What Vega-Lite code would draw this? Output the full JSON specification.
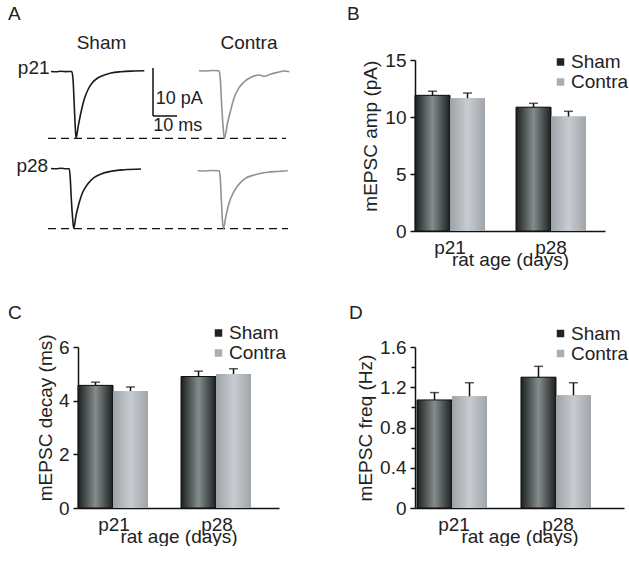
{
  "$schema": "https://vega.github.io/schema/vega-lite/v6.json",
  "background": "white",
  "padding": {"left": 7, "top": 4, "right": 0, "bottom": 0},
  "config": {
    "font": "Liberation Sans",
    "view": {"stroke": null},
    "axis": {
      "grid": false,
      "domainColor": "#111111",
      "domainWidth": 1.5,
      "tickColor": "#111111",
      "tickWidth": 1.5,
      "labelFont": "Liberation Sans",
      "labelFontSize": 19,
      "labelColor": "#222222",
      "titleFont": "Liberation Sans",
      "titleFontSize": 19,
      "titleFontWeight": "normal",
      "titleColor": "#222222"
    },
    "legend": {
      "labelFont": "Liberation Sans",
      "labelFontSize": 19,
      "labelColor": "#222222",
      "symbolType": "square",
      "symbolSize": 56,
      "symbolStrokeWidth": 0,
      "rowPadding": -2,
      "labelOffset": 1,
      "padding": 0
    },
    "title": {
      "font": "Liberation Sans",
      "fontSize": 19,
      "fontWeight": "normal",
      "color": "#222222",
      "anchor": "start",
      "frame": "group"
    }
  },
  "datasets": {
    "amp": [
      {"age": "p21", "group": "Sham", "mean": 11.9, "hi": 12.26},
      {"age": "p21", "group": "Contra", "mean": 11.65, "hi": 12.1},
      {"age": "p28", "group": "Sham", "mean": 10.86, "hi": 11.2},
      {"age": "p28", "group": "Contra", "mean": 10.04, "hi": 10.5}
    ],
    "decay": [
      {"age": "p21", "group": "Sham", "mean": 4.57, "hi": 4.69},
      {"age": "p21", "group": "Contra", "mean": 4.36, "hi": 4.51},
      {"age": "p28", "group": "Sham", "mean": 4.9, "hi": 5.1},
      {"age": "p28", "group": "Contra", "mean": 4.99, "hi": 5.19}
    ],
    "freq": [
      {"age": "p21", "group": "Sham", "mean": 1.074, "hi": 1.147},
      {"age": "p21", "group": "Contra", "mean": 1.11, "hi": 1.245},
      {"age": "p28", "group": "Sham", "mean": 1.3, "hi": 1.408},
      {"age": "p28", "group": "Contra", "mean": 1.12, "hi": 1.245}
    ],
    "traces": [
      {"trace": "Sham p21", "cond": "Sham", "t": 0, "v": 33.23},
      {"trace": "Sham p21", "cond": "Sham", "t": 2.08, "v": 33.17},
      {"trace": "Sham p21", "cond": "Sham", "t": 4.17, "v": 33.27},
      {"trace": "Sham p21", "cond": "Sham", "t": 6.25, "v": 33.21},
      {"trace": "Sham p21", "cond": "Sham", "t": 8.63, "v": 33.23},
      {"trace": "Sham p21", "cond": "Sham", "t": 9.17, "v": 31.67},
      {"trace": "Sham p21", "cond": "Sham", "t": 9.58, "v": 27.5},
      {"trace": "Sham p21", "cond": "Sham", "t": 10.0, "v": 22.71},
      {"trace": "Sham p21", "cond": "Sham", "t": 10.42, "v": 19.31},
      {"trace": "Sham p21", "cond": "Sham", "t": 11.38, "v": 21.94},
      {"trace": "Sham p21", "cond": "Sham", "t": 12.5, "v": 24.73},
      {"trace": "Sham p21", "cond": "Sham", "t": 13.88, "v": 27.5},
      {"trace": "Sham p21", "cond": "Sham", "t": 15.54, "v": 29.58},
      {"trace": "Sham p21", "cond": "Sham", "t": 17.38, "v": 30.98},
      {"trace": "Sham p21", "cond": "Sham", "t": 19.46, "v": 31.88},
      {"trace": "Sham p21", "cond": "Sham", "t": 22.21, "v": 32.5},
      {"trace": "Sham p21", "cond": "Sham", "t": 25.0, "v": 32.92},
      {"trace": "Sham p21", "cond": "Sham", "t": 29.17, "v": 33.19},
      {"trace": "Sham p21", "cond": "Sham", "t": 34.71, "v": 33.33},
      {"trace": "Sham p21", "cond": "Sham", "t": 38.88, "v": 33.4},
      {"trace": "Contra p21", "cond": "Contra", "t": 61.67, "v": 33.4},
      {"trace": "Contra p21", "cond": "Contra", "t": 64.58, "v": 33.33},
      {"trace": "Contra p21", "cond": "Contra", "t": 67.5, "v": 33.44},
      {"trace": "Contra p21", "cond": "Contra", "t": 70.0, "v": 33.38},
      {"trace": "Contra p21", "cond": "Contra", "t": 70.54, "v": 31.67},
      {"trace": "Contra p21", "cond": "Contra", "t": 71.13, "v": 26.1},
      {"trace": "Contra p21", "cond": "Contra", "t": 71.79, "v": 21.25},
      {"trace": "Contra p21", "cond": "Contra", "t": 72.21, "v": 19.31},
      {"trace": "Contra p21", "cond": "Contra", "t": 73.63, "v": 22.65},
      {"trace": "Contra p21", "cond": "Contra", "t": 75.0, "v": 25.42},
      {"trace": "Contra p21", "cond": "Contra", "t": 76.38, "v": 27.85},
      {"trace": "Contra p21", "cond": "Contra", "t": 78.46, "v": 29.94},
      {"trace": "Contra p21", "cond": "Contra", "t": 80.54, "v": 31.1},
      {"trace": "Contra p21", "cond": "Contra", "t": 83.33, "v": 32.02},
      {"trace": "Contra p21", "cond": "Contra", "t": 86.79, "v": 32.5},
      {"trace": "Contra p21", "cond": "Contra", "t": 88.88, "v": 32.23},
      {"trace": "Contra p21", "cond": "Contra", "t": 91.67, "v": 32.71},
      {"trace": "Contra p21", "cond": "Contra", "t": 94.17, "v": 33.02},
      {"trace": "Contra p21", "cond": "Contra", "t": 97.21, "v": 33.33},
      {"trace": "Contra p21", "cond": "Contra", "t": 99.29, "v": 33.19},
      {"trace": "Sham p28", "cond": "Sham", "t": 0, "v": 13.02},
      {"trace": "Sham p28", "cond": "Sham", "t": 2.08, "v": 12.96},
      {"trace": "Sham p28", "cond": "Sham", "t": 4.17, "v": 13.06},
      {"trace": "Sham p28", "cond": "Sham", "t": 6.25, "v": 12.98},
      {"trace": "Sham p28", "cond": "Sham", "t": 7.63, "v": 12.98},
      {"trace": "Sham p28", "cond": "Sham", "t": 8.04, "v": 10.83},
      {"trace": "Sham p28", "cond": "Sham", "t": 8.46, "v": 6.67},
      {"trace": "Sham p28", "cond": "Sham", "t": 9.04, "v": 2.5},
      {"trace": "Sham p28", "cond": "Sham", "t": 9.46, "v": 0.56},
      {"trace": "Sham p28", "cond": "Sham", "t": 10.42, "v": 3.19},
      {"trace": "Sham p28", "cond": "Sham", "t": 11.79, "v": 5.98},
      {"trace": "Sham p28", "cond": "Sham", "t": 13.21, "v": 8.06},
      {"trace": "Sham p28", "cond": "Sham", "t": 15.29, "v": 9.79},
      {"trace": "Sham p28", "cond": "Sham", "t": 18.04, "v": 11.19},
      {"trace": "Sham p28", "cond": "Sham", "t": 20.83, "v": 11.88},
      {"trace": "Sham p28", "cond": "Sham", "t": 25.0, "v": 12.44},
      {"trace": "Sham p28", "cond": "Sham", "t": 30.54, "v": 12.77},
      {"trace": "Sham p28", "cond": "Sham", "t": 37.5, "v": 12.92},
      {"trace": "Contra p28", "cond": "Contra", "t": 61.13, "v": 12.56},
      {"trace": "Contra p28", "cond": "Contra", "t": 63.75, "v": 12.5},
      {"trace": "Contra p28", "cond": "Contra", "t": 66.67, "v": 12.6},
      {"trace": "Contra p28", "cond": "Contra", "t": 70.13, "v": 12.56},
      {"trace": "Contra p28", "cond": "Contra", "t": 70.54, "v": 10.83},
      {"trace": "Contra p28", "cond": "Contra", "t": 70.96, "v": 6.67},
      {"trace": "Contra p28", "cond": "Contra", "t": 71.38, "v": 2.5},
      {"trace": "Contra p28", "cond": "Contra", "t": 71.79, "v": 0.56},
      {"trace": "Contra p28", "cond": "Contra", "t": 72.92, "v": 3.19},
      {"trace": "Contra p28", "cond": "Contra", "t": 74.29, "v": 5.98},
      {"trace": "Contra p28", "cond": "Contra", "t": 75.71, "v": 7.71},
      {"trace": "Contra p28", "cond": "Contra", "t": 77.79, "v": 9.44},
      {"trace": "Contra p28", "cond": "Contra", "t": 80.54, "v": 10.83},
      {"trace": "Contra p28", "cond": "Contra", "t": 84.71, "v": 11.67},
      {"trace": "Contra p28", "cond": "Contra", "t": 90.29, "v": 12.23},
      {"trace": "Contra p28", "cond": "Contra", "t": 94.17, "v": 12.4},
      {"trace": "Contra p28", "cond": "Contra", "t": 98.63, "v": 12.56}
    ]
  },
  "columns": 2,
  "spacing": {"column": 136, "row": 116},
  "bounds": "flush",
  "resolve": {"scale": {"color": "independent"}, "legend": {"color": "independent"}},
  "concat": [
    {
      "width": 201,
      "height": 171,
      "layer": [
        {
          "data": {"values": [
            {"row": "p21", "t1": -1.25, "t2": 97.92, "v": 19.31},
            {"row": "p28", "t1": -1.25, "t2": 98.75, "v": 0.48}
          ]},
          "mark": {"type": "rule", "color": "#111111", "strokeWidth": 1.3, "strokeDash": [8, 5]},
          "encoding": {
            "x": {"field": "t1", "type": "quantitative", "scale": {"domain": [11.25, 95], "zero": false, "nice": false}, "axis": null},
            "x2": {"field": "t2"},
            "y": {"field": "v", "type": "quantitative", "scale": {"domain": [0, 35.625], "nice": false}, "axis": null}
          }
        },
        {
          "data": {"name": "traces"},
          "mark": {"type": "line", "strokeWidth": 1.6, "interpolate": "monotone"},
          "encoding": {
            "x": {"field": "t", "type": "quantitative"},
            "y": {"field": "v", "type": "quantitative"},
            "detail": {"field": "trace", "type": "nominal"},
            "color": {"field": "cond", "type": "nominal", "scale": {"domain": ["Sham", "Contra"], "range": ["#1a1a1a", "#8f9292"]}, "legend": null}
          }
        },
        {
          "data": {"values": [
            {"bar": "10 pA", "t1": 42.5, "t2": 42.5, "v1": 23.96, "v2": 33.96},
            {"bar": "10 ms", "t1": 42.5, "t2": 52.5, "v1": 23.96, "v2": 23.96}
          ]},
          "mark": {"type": "rule", "color": "#111111", "strokeWidth": 1.5},
          "encoding": {
            "x": {"field": "t1", "type": "quantitative"},
            "x2": {"field": "t2"},
            "y": {"field": "v1", "type": "quantitative"},
            "y2": {"field": "v2"}
          }
        },
        {
          "data": {"values": [
            {"label": "10 pA", "t": 43.6, "v": 26.56},
            {"label": "10 ms", "t": 42.6, "v": 20.9}
          ]},
          "mark": {"type": "text", "align": "left", "baseline": "alphabetic", "fontSize": 18, "color": "#222222"},
          "encoding": {
            "x": {"field": "t", "type": "quantitative"},
            "y": {"field": "v", "type": "quantitative"},
            "text": {"field": "label"}
          }
        },
        {
          "data": {"values": [
            {"label": "A", "t": -17.92, "v": 44.02}
          ]},
          "mark": {"type": "text", "align": "left", "baseline": "alphabetic", "fontSize": 19, "color": "#222222"},
          "encoding": {
            "x": {"field": "t", "type": "quantitative"},
            "y": {"field": "v", "type": "quantitative"},
            "text": {"field": "label"}
          }
        },
        {
          "data": {"values": [
            {"label": "Sham", "t": 21.04, "v": 37.92},
            {"label": "Contra", "t": 82.5, "v": 37.92}
          ]},
          "mark": {"type": "text", "align": "center", "baseline": "alphabetic", "fontSize": 19, "color": "#222222"},
          "encoding": {
            "x": {"field": "t", "type": "quantitative"},
            "y": {"field": "v", "type": "quantitative"},
            "text": {"field": "label"}
          }
        },
        {
          "data": {"values": [
            {"label": "p21", "t": -0.6, "v": 32.71},
            {"label": "p28", "t": -1.2, "v": 12.29}
          ]},
          "mark": {"type": "text", "align": "right", "baseline": "alphabetic", "fontSize": 19, "color": "#222222"},
          "encoding": {
            "x": {"field": "t", "type": "quantitative"},
            "y": {"field": "v", "type": "quantitative"},
            "text": {"field": "label"}
          }
        }
      ]
    },
    {
      "width": 190,
      "height": 171,
      "title": {"text": "B", "dx": -68, "offset": 27},
      "data": {"name": "amp"},
      "encoding": {
        "x": {"field": "age", "type": "nominal", "scale": {"paddingInner": 0.307, "paddingOuter": 0.094, "align": 0}, "axis": {"title": "rat age (days)", "labelAngle": 0, "ticks": false, "labelPadding": 7, "titlePadding": -7}},
        "xOffset": {"field": "group", "type": "nominal", "scale": {"domain": ["Sham", "Contra"], "paddingInner": 0, "paddingOuter": 0}},
        "y": {"field": "mean", "type": "quantitative", "scale": {"domain": [0, 15], "nice": false}, "axis": {"title": "mEPSC amp (pA)", "values": [0, 5, 10, 15], "tickSize": 5, "labelPadding": 4, "titlePadding": 4, "titleY": 75.7}}
      },
      "layer": [
        {
          "mark": {"type": "bar"},
          "encoding": {
            "color": {"field": "group", "type": "nominal", "scale": {"domain": ["Sham", "Contra"], "range": ["#222222", "#a9aeb3"]}, "legend": {"title": null, "orient": "none", "legendX": 136, "legendY": -7.5}}
          }
        },
        {
          "transform": [{"filter": "datum.group === 'Sham'"}],
          "mark": {"type": "bar", "stroke": "#111111", "strokeWidth": 1, "color": {"gradient": "linear", "x1": 0, "x2": 1, "y1": 0, "y2": 0, "stops": [{"offset": 0, "color": "#1c1f1f"}, {"offset": 0.5, "color": "#848d8d"}, {"offset": 1, "color": "#1c1f1f"}]}}
        },
        {
          "transform": [{"filter": "datum.group === 'Contra'"}],
          "mark": {"type": "bar", "color": {"gradient": "linear", "x1": 0, "x2": 1, "y1": 0, "y2": 0, "stops": [{"offset": 0, "color": "#9ca2a7"}, {"offset": 0.5, "color": "#c8ccd0"}, {"offset": 1, "color": "#a0a5a9"}]}}
        },
        {
          "mark": {"type": "rule", "color": "#111111", "strokeWidth": 1.5},
          "encoding": {"y2": {"field": "hi"}}
        },
        {
          "mark": {"type": "tick", "orient": "horizontal", "color": "#111111", "size": 9, "thickness": 1.5},
          "encoding": {"y": {"field": "hi", "type": "quantitative"}}
        }
      ]
    },
    {
      "width": 201,
      "height": 161,
      "title": {"text": "C", "dx": -70, "offset": 1},
      "data": {"name": "decay"},
      "encoding": {
        "x": {"field": "age", "type": "nominal", "scale": {"paddingInner": 0.301, "paddingOuter": 0.126, "align": 0}, "axis": {"title": "rat age (days)", "labelAngle": 0, "ticks": false, "labelPadding": 7, "titlePadding": -7}},
        "xOffset": {"field": "group", "type": "nominal", "scale": {"domain": ["Sham", "Contra"], "paddingInner": 0, "paddingOuter": 0}},
        "y": {"field": "mean", "type": "quantitative", "scale": {"domain": [0, 6], "nice": false}, "axis": {"title": "mEPSC decay (ms)", "values": [0, 2, 4, 6], "tickSize": 5, "labelPadding": 4, "titlePadding": 3, "titleY": 70.3}}
      },
      "layer": [
        {
          "mark": {"type": "bar"},
          "encoding": {
            "color": {"field": "group", "type": "nominal", "scale": {"domain": ["Sham", "Contra"], "range": ["#222222", "#a9aeb3"]}, "legend": {"title": null, "orient": "none", "legendX": 131, "legendY": -23.5}}
          }
        },
        {
          "transform": [{"filter": "datum.group === 'Sham'"}],
          "mark": {"type": "bar", "stroke": "#111111", "strokeWidth": 1, "color": {"gradient": "linear", "x1": 0, "x2": 1, "y1": 0, "y2": 0, "stops": [{"offset": 0, "color": "#1c1f1f"}, {"offset": 0.5, "color": "#848d8d"}, {"offset": 1, "color": "#1c1f1f"}]}}
        },
        {
          "transform": [{"filter": "datum.group === 'Contra'"}],
          "mark": {"type": "bar", "color": {"gradient": "linear", "x1": 0, "x2": 1, "y1": 0, "y2": 0, "stops": [{"offset": 0, "color": "#9ca2a7"}, {"offset": 0.5, "color": "#c8ccd0"}, {"offset": 1, "color": "#a0a5a9"}]}}
        },
        {
          "mark": {"type": "rule", "color": "#111111", "strokeWidth": 1.5},
          "encoding": {"y2": {"field": "hi"}}
        },
        {
          "mark": {"type": "tick", "orient": "horizontal", "color": "#111111", "size": 9, "thickness": 1.5},
          "encoding": {"y": {"field": "hi", "type": "quantitative"}}
        }
      ]
    },
    {
      "width": 209,
      "height": 161,
      "title": {"text": "D", "dx": -66, "offset": 1},
      "data": {"name": "freq"},
      "encoding": {
        "x": {"field": "age", "type": "nominal", "scale": {"paddingInner": 0.288, "paddingOuter": 0.149, "align": 0.065}, "axis": {"title": "rat age (days)", "labelAngle": 0, "ticks": false, "labelPadding": 7, "titlePadding": -7}},
        "xOffset": {"field": "group", "type": "nominal", "scale": {"domain": ["Sham", "Contra"], "paddingInner": 0, "paddingOuter": 0}},
        "y": {"field": "mean", "type": "quantitative", "scale": {"domain": [0, 1.6], "nice": false}, "axis": {"title": "mEPSC freq (Hz)", "values": [0, 0.2, 0.4, 0.6, 0.8, 1.0, 1.2, 1.4, 1.6], "labelExpr": "datum.value === 0 ? '0' : (round(datum.value * 10) % 4 === 0 ? format(datum.value, '.1f') : '')", "tickSize": {"condition": {"test": "round(datum.value * 10) % 4 !== 0", "value": 4}, "value": 5}, "labelPadding": 4, "titlePadding": 4}}
      },
      "layer": [
        {
          "mark": {"type": "bar"},
          "encoding": {
            "color": {"field": "group", "type": "nominal", "scale": {"domain": ["Sham", "Contra"], "range": ["#222222", "#a9aeb3"]}, "legend": {"title": null, "orient": "none", "legendX": 136, "legendY": -23}}
          }
        },
        {
          "transform": [{"filter": "datum.group === 'Sham'"}],
          "mark": {"type": "bar", "stroke": "#111111", "strokeWidth": 1, "color": {"gradient": "linear", "x1": 0, "x2": 1, "y1": 0, "y2": 0, "stops": [{"offset": 0, "color": "#1c1f1f"}, {"offset": 0.5, "color": "#848d8d"}, {"offset": 1, "color": "#1c1f1f"}]}}
        },
        {
          "transform": [{"filter": "datum.group === 'Contra'"}],
          "mark": {"type": "bar", "color": {"gradient": "linear", "x1": 0, "x2": 1, "y1": 0, "y2": 0, "stops": [{"offset": 0, "color": "#9ca2a7"}, {"offset": 0.5, "color": "#c8ccd0"}, {"offset": 1, "color": "#a0a5a9"}]}}
        },
        {
          "mark": {"type": "rule", "color": "#111111", "strokeWidth": 1.5},
          "encoding": {"y2": {"field": "hi"}}
        },
        {
          "mark": {"type": "tick", "orient": "horizontal", "color": "#111111", "size": 9, "thickness": 1.5},
          "encoding": {"y": {"field": "hi", "type": "quantitative"}}
        }
      ]
    }
  ]
}
